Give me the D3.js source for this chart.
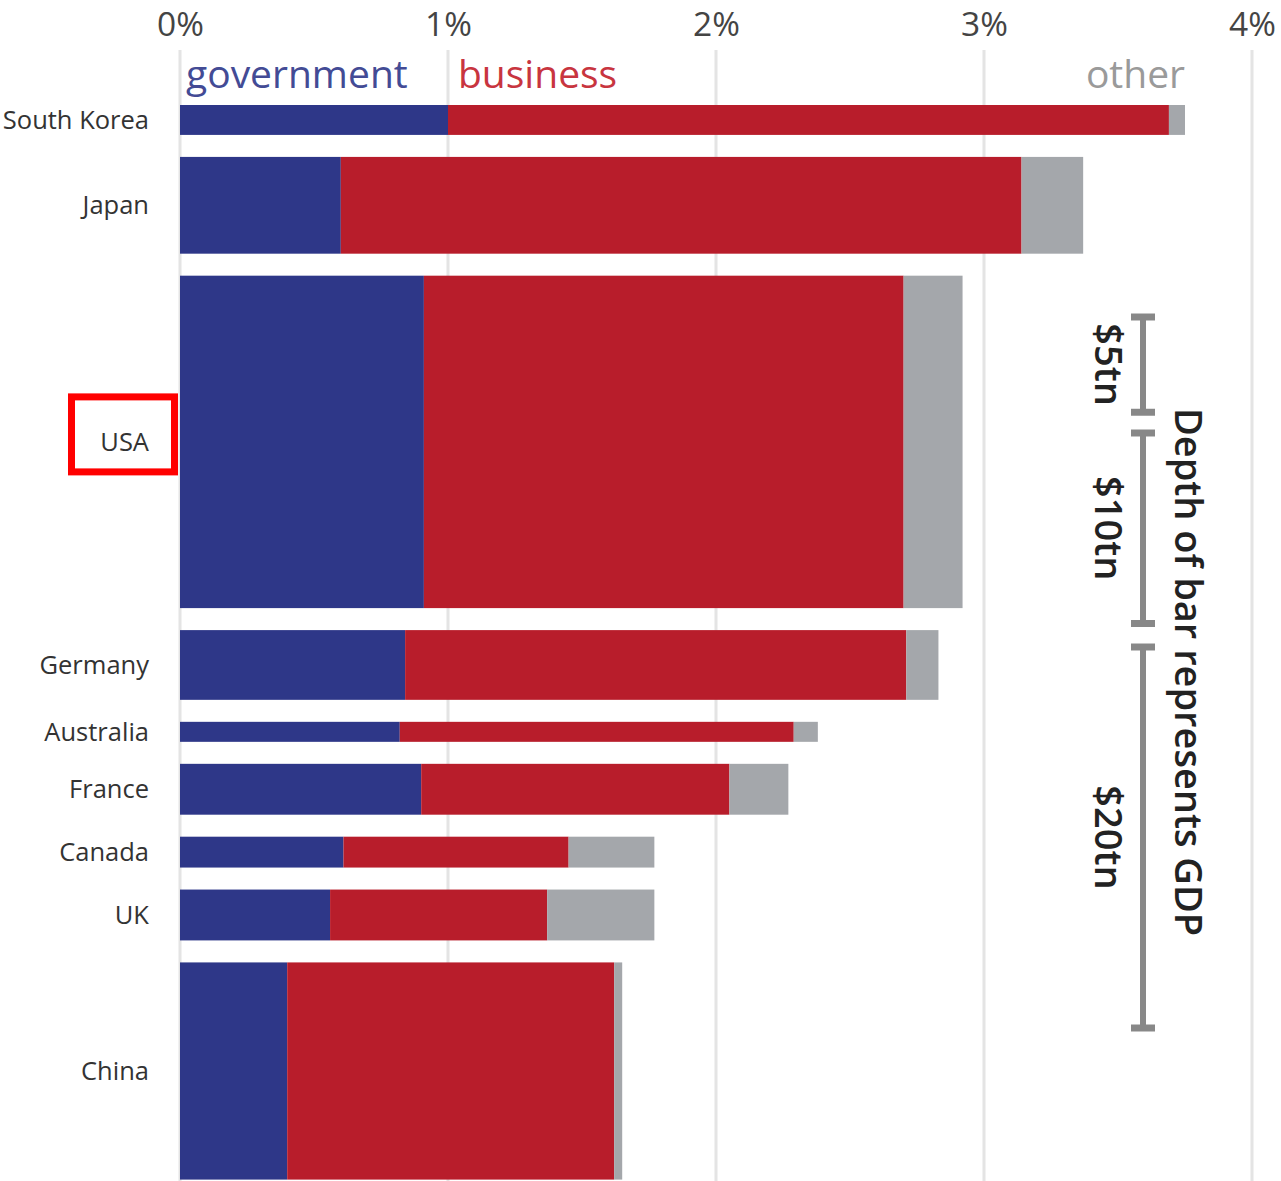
<!DOCTYPE html>
<html>
<head>
<meta charset="utf-8">
<script src="https://cdn.jsdelivr.net/npm/d3@7"></script>
<style>
  body { margin: 0; background: #fff; }
  svg { display: block; font-family: "Open Sans", sans-serif; }
</style>
</head>
<body>
<svg id="chart"></svg>
<script>
// R&D spending as % of GDP, split by funder; bar depth = GDP ($tn)
const countries  = ['South Korea', 'Japan', 'USA', 'Germany', 'Australia', 'France', 'Canada', 'UK', 'China'];
const government = [1.00, 0.60, 0.91, 0.84, 0.82, 0.90, 0.61, 0.56, 0.40];
const business   = [2.69, 2.54, 1.79, 1.87, 1.47, 1.15, 0.84, 0.81, 1.22];
const other      = [0.06, 0.23, 0.22, 0.12, 0.09, 0.22, 0.32, 0.40, 0.03];
const gdp        = [1.57, 5.08, 17.45, 3.66, 1.05, 2.67, 1.62, 2.67, 11.4];

const seriesKeys   = ['government', 'business', 'other'];
const seriesColors = ['#2e3788', '#b81d2b', '#a4a7ab'];
const legendColors = ['#434b95', '#c8353f', '#9a9a9a'];
const xTicks       = [0, 1, 2, 3, 4];
const scaleBars    = [5, 10, 20];
const scaleLabels  = ['$5tn', '$10tn', '$20tn'];
const highlighted  = 'USA';

class DepthBars {

  constructor(_config) {
    this.config = {
      parentElement: _config.parentElement,
      width: _config.width || 1281,
      height: _config.height || 1181
    };
    this.initVis();
  }

  initVis() {
    let vis = this;

    vis.svg = d3.select(vis.config.parentElement)
        .attr('width', vis.config.width)
        .attr('height', vis.config.height);

    vis.xScale = d3.scaleLinear()
        .domain([0, 4])
        .range([180, 1252]);

    // pixels of bar depth per $tn of GDP
    vis.depth = d3.scaleLinear()
        .domain([0, 20])
        .range([0, 381]);

    vis.gap = 22;
    vis.top = 105;

    vis.rows = countries.map((c, i) => ({
      country: c,
      government: government[i],
      business: business[i],
      other: other[i],
      gdp: gdp[i]
    }));

    // stack the rows down the page, each as deep as its GDP
    let y = vis.top;
    vis.rows.forEach(d => {
      d.y = y;
      d.h = vis.depth(d.gdp);
      y += d.h + vis.gap;
    });

    vis.stack = d3.stack().keys(seriesKeys)(vis.rows);

    vis.updateVis();
  }

  updateVis() {
    let vis = this;

    // gridlines
    vis.svg.append('g')
      .selectAll('line')
      .data(xTicks)
      .join('line')
        .attr('x1', d => vis.xScale(d))
        .attr('x2', d => vis.xScale(d))
        .attr('y1', 50)
        .attr('y2', vis.config.height)
        .attr('stroke', '#e4e4e4')
        .attr('stroke-width', 3);

    // top axis labels
    vis.xAxis = d3.axisTop(vis.xScale)
        .tickValues(xTicks)
        .tickFormat(d => d + '%')
        .tickSize(0)
        .tickPadding(0);

    vis.xAxisG = vis.svg.append('g')
        .attr('class', 'axis x-axis')
        .attr('transform', 'translate(0,36)')
        .call(vis.xAxis);
    vis.xAxisG.select('.domain').remove();
    vis.xAxisG.selectAll('text')
        .attr('font-family', '"Open Sans", sans-serif')
        .attr('font-size', 33.5)
        .attr('fill', '#444');

    // stacked bars
    vis.svg.append('g')
      .selectAll('g')
      .data(vis.stack)
      .join('g')
        .attr('fill', (d, i) => seriesColors[i])
      .selectAll('rect')
      .data(d => d)
      .join('rect')
        .attr('x', d => vis.xScale(d[0]))
        .attr('width', d => vis.xScale(d[1]) - vis.xScale(d[0]))
        .attr('y', d => d.data.y)
        .attr('height', d => d.data.h);

    // legend
    const legendX = [186, 458, 1185];
    vis.svg.append('g')
      .selectAll('text')
      .data(seriesKeys)
      .join('text')
        .attr('x', (d, i) => legendX[i])
        .attr('y', 88)
        .attr('text-anchor', (d, i) => i == 2 ? 'end' : 'start')
        .attr('font-size', 39)
        .attr('fill', (d, i) => legendColors[i])
        .text(d => d);

    // country labels
    vis.svg.append('g')
      .selectAll('text')
      .data(vis.rows)
      .join('text')
        .attr('x', 149)
        .attr('y', d => d.y + d.h / 2)
        .attr('dy', '0.35em')
        .attr('text-anchor', 'end')
        .attr('font-size', 25.5)
        .attr('fill', '#333')
        .text(d => d.country);

    // red highlight box
    const hl = vis.rows.find(d => d.country == highlighted);
    vis.svg.append('rect')
        .attr('x', 71.5)
        .attr('y', hl.y + hl.h / 2 - 45)
        .attr('width', 103)
        .attr('height', 75)
        .attr('fill', 'none')
        .attr('stroke', '#ff0000')
        .attr('stroke-width', 7);

    // GDP scale bars
    const barStarts = [317, 433, 647];
    const sx = 1143;
    const sb = vis.svg.append('g')
      .selectAll('g')
      .data(scaleBars)
      .join('g')
        .attr('transform', (d, i) => `translate(${sx},${barStarts[i]})`);

    sb.append('line')
        .attr('y1', 0)
        .attr('y2', d => vis.depth(d))
        .attr('stroke', '#888')
        .attr('stroke-width', 6);
    sb.append('line')
        .attr('x1', -12).attr('x2', 12)
        .attr('y1', 0).attr('y2', 0)
        .attr('stroke', '#888')
        .attr('stroke-width', 7);
    sb.append('line')
        .attr('x1', -12).attr('x2', 12)
        .attr('y1', d => vis.depth(d)).attr('y2', d => vis.depth(d))
        .attr('stroke', '#888')
        .attr('stroke-width', 7);

    sb.append('text')
        .attr('transform', d => `translate(-48,${vis.depth(d) / 2}) rotate(90)`)
        .attr('text-anchor', 'middle')
        .attr('font-size', 38)
        .attr('font-weight', 600)
        .attr('fill', '#222')
        .text((d, i) => scaleLabels[i]);

    vis.svg.append('text')
        .attr('transform', 'translate(1175,672) rotate(90)')
        .attr('text-anchor', 'middle')
        .attr('font-size', 38)
        .attr('font-weight', 600)
        .attr('fill', '#222')
        .text('Depth of bar represents GDP');
  }
}

new DepthBars({ parentElement: '#chart' });
</script>
</body>
</html>
